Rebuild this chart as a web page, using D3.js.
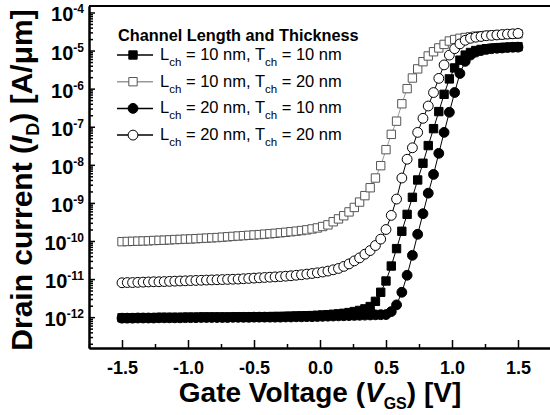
<!DOCTYPE html>
<meta charset="utf-8">
<style>
    body { margin: 0; background: #fff; }
    svg { font-family: Arial, "Liberation Sans", sans-serif; }
    .axis path, .axis line { stroke: #000; }
    .axis path { stroke-width: 2px; }
    .axis line { stroke-width: 1.5px; }
</style>
<svg width="550" height="415"></svg>
<script src="https://d3js.org/d3.v7.min.js"></script>
<script>

    // gate voltage sweep [V], 0.04 V step
    var vgs = [-1.50,-1.46,-1.42,-1.38,-1.34,-1.30,-1.26,-1.22,-1.18,-1.14,
        -1.10,-1.06,-1.02,-0.98,-0.94,-0.90,-0.86,-0.82,-0.78,-0.74,
        -0.70,-0.66,-0.62,-0.58,-0.54,-0.50,-0.46,-0.42,-0.38,-0.34,
        -0.30,-0.26,-0.22,-0.18,-0.14,-0.10,-0.06,-0.02,0.02,0.06,
        0.10,0.14,0.18,0.22,0.26,0.30,0.34,0.38,0.42,0.46,
        0.50,0.54,0.58,0.62,0.66,0.70,0.74,0.78,0.82,0.86,
        0.90,0.94,0.98,1.02,1.06,1.10,1.14,1.18,1.22,1.26,
        1.30,1.34,1.38,1.42,1.46,1.50];

    // drain current [A/um]
    var idL10T10 = [9.6e-13,9.6e-13,9.6e-13,9.7e-13,9.7e-13,9.7e-13,9.7e-13,9.8e-13,9.8e-13,9.8e-13,
        9.8e-13,9.8e-13,9.9e-13,9.9e-13,9.9e-13,1.0e-12,1.0e-12,1.0e-12,1.0e-12,1.0e-12,
        1.0e-12,1.0e-12,1.01e-12,1.01e-12,1.01e-12,1.02e-12,1.02e-12,1.03e-12,1.03e-12,1.04e-12,
        1.04e-12,1.05e-12,1.06e-12,1.07e-12,1.08e-12,1.09e-12,1.1e-12,1.12e-12,1.14e-12,1.16e-12,
        1.19e-12,1.22e-12,1.26e-12,1.32e-12,1.4e-12,1.5e-12,1.65e-12,1.9e-12,2.6e-12,4.5e-12,
        8.9e-12,2.2e-11,6.3e-11,1.8e-10,5.0e-10,1.4e-9,4.0e-9,1.1e-8,3.2e-8,8.9e-8,
        2.5e-7,7.1e-7,1.8e-6,3.5e-6,5.6e-6,7.6e-6,8.9e-6,1.0e-5,1.07e-5,1.12e-5,
        1.15e-5,1.17e-5,1.2e-5,1.22e-5,1.23e-5,1.26e-5];

    var idL10T20 = [9.6e-11,9.7e-11,9.8e-11,9.9e-11,1.0e-10,1.01e-10,1.03e-10,1.04e-10,1.05e-10,1.07e-10,
        1.09e-10,1.1e-10,1.12e-10,1.13e-10,1.15e-10,1.17e-10,1.19e-10,1.21e-10,1.23e-10,1.26e-10,
        1.29e-10,1.32e-10,1.35e-10,1.38e-10,1.41e-10,1.44e-10,1.47e-10,1.51e-10,1.55e-10,1.59e-10,
        1.64e-10,1.69e-10,1.75e-10,1.81e-10,1.88e-10,1.96e-10,2.07e-10,2.2e-10,2.4e-10,2.65e-10,
        3.2e-10,3.8e-10,4.6e-10,5.8e-10,7.6e-10,1.05e-9,1.55e-9,2.5e-9,4.5e-9,9.5e-9,
        2.5e-8,6.3e-8,1.4e-7,4.0e-7,1.0e-6,1.9e-6,3.3e-6,5.1e-6,7.2e-6,9.3e-6,
        1.17e-5,1.45e-5,1.78e-5,1.95e-5,2.1e-5,2.2e-5,2.3e-5,2.4e-5,2.45e-5,2.5e-5,
        2.55e-5,2.6e-5,2.63e-5,2.66e-5,2.7e-5,2.75e-5];

    var idL20T10 = [9.4e-13,9.4e-13,9.4e-13,9.5e-13,9.5e-13,9.5e-13,9.5e-13,9.6e-13,9.6e-13,9.6e-13,
        9.6e-13,9.6e-13,9.7e-13,9.7e-13,9.7e-13,9.8e-13,9.8e-13,9.8e-13,9.8e-13,9.8e-13,
        9.8e-13,9.9e-13,9.9e-13,9.9e-13,9.9e-13,1.0e-12,1.0e-12,1.0e-12,1.0e-12,1.0e-12,
        1.0e-12,1.01e-12,1.01e-12,1.02e-12,1.02e-12,1.03e-12,1.03e-12,1.04e-12,1.05e-12,1.06e-12,
        1.07e-12,1.08e-12,1.09e-12,1.1e-12,1.11e-12,1.12e-12,1.13e-12,1.14e-12,1.15e-12,1.16e-12,
        1.17e-12,1.4e-12,2.1e-12,4.5e-12,1.26e-11,4.2e-11,1.5e-10,5.2e-10,1.8e-9,5.6e-9,
        2.0e-8,7.1e-8,2.4e-7,7.9e-7,2.5e-6,5.2e-6,7.6e-6,9.1e-6,1.0e-5,1.07e-5,
        1.12e-5,1.15e-5,1.17e-5,1.2e-5,1.22e-5,1.23e-5];

    var idL20T20 = [8.0e-12,8.1e-12,8.1e-12,8.2e-12,8.3e-12,8.4e-12,8.5e-12,8.5e-12,8.6e-12,8.7e-12,
        8.8e-12,8.9e-12,9.0e-12,9.1e-12,9.2e-12,9.3e-12,9.4e-12,9.5e-12,9.6e-12,9.7e-12,
        9.8e-12,9.9e-12,1.0e-11,1.02e-11,1.04e-11,1.06e-11,1.08e-11,1.1e-11,1.12e-11,1.14e-11,
        1.16e-11,1.19e-11,1.22e-11,1.26e-11,1.3e-11,1.35e-11,1.4e-11,1.46e-11,1.53e-11,1.62e-11,
        1.75e-11,1.9e-11,2.15e-11,2.5e-11,3.0e-11,3.6e-11,4.5e-11,5.6e-11,7.6e-11,1.12e-10,
        2.0e-10,4.7e-10,1.26e-9,4.5e-9,1.4e-8,2.8e-8,7.1e-8,1.66e-7,3.5e-7,7.9e-7,
        1.86e-6,4.2e-6,7.6e-6,1.12e-5,1.5e-5,1.86e-5,2.1e-5,2.24e-5,2.34e-5,2.45e-5,
        2.5e-5,2.57e-5,2.63e-5,2.7e-5,2.75e-5,2.82e-5];

    var xTicks = [-1.5, -1.0, -0.5, 0.0, 0.5, 1.0, 1.5];
    var yTickExps = [-4, -5, -6, -7, -8, -9, -10, -11, -12];

    var series = [
        {lch: "10", tch: "10", values: idL10T10, shape: "square", fill: "#000", stroke: "#000", line: "#000"},
        {lch: "10", tch: "20", values: idL10T20, shape: "square", fill: "#fff", stroke: "#555", line: "#999"},
        {lch: "20", tch: "10", values: idL20T10, shape: "circle", fill: "#000", stroke: "#000", line: "#000"},
        {lch: "20", tch: "20", values: idL20T20, shape: "circle", fill: "#fff", stroke: "#000", line: "#000"}
    ];

    var svg = d3.select("svg");

    var plotL = 89, plotR = 551, plotT = 6, plotB = 348;

    var x = d3.scaleLinear().domain([-1.75, 1.75]).range([plotL, plotR]);
    var y = d3.scaleLog().domain([Math.pow(10, -12.81), Math.pow(10, -3.83)]).range([plotB, plotT]);

    // minor ticks
    var xMinor = [-1.75, -1.25, -0.75, -0.25, 0.25, 0.75, 1.25, 1.75];
    var yMinor = [];
    for (var e = -13; e <= -4; e++) {
        for (var m = 2; m <= 9; m++) {
            var v = m * Math.pow(10, e);
            if (v > y.domain()[0] && v < y.domain()[1]) yMinor.push(v);
        }
    }

    svg.append("g")
        .attr("class", "axis")
        .attr("transform", "translate(0," + plotB + ")")
        .call(d3.axisBottom(x).tickValues(xMinor).tickSize(-4).tickSizeOuter(0).tickFormat(""));

    var xAxis = svg.append("g")
        .attr("class", "axis")
        .attr("transform", "translate(0," + plotB + ")")
        .call(d3.axisBottom(x).tickValues(xTicks).tickSize(-8).tickSizeOuter(0).tickPadding(13)
            .tickFormat(d3.format(".1f")));
    xAxis.selectAll("text")
        .attr("font-size", 18)
        .attr("font-weight", "bold")
        .attr("font-family", "Arial, 'Liberation Sans', sans-serif")
        .text(function(d) { return d3.format(".1f")(d).replace("\u2212", "-"); });

    svg.append("g")
        .attr("class", "axis")
        .attr("transform", "translate(" + plotL + ",0)")
        .call(d3.axisLeft(y).tickValues(yMinor).tickSize(-4).tickSizeOuter(0).tickFormat(""));

    svg.append("g")
        .attr("class", "axis")
        .attr("transform", "translate(" + plotL + ",0)")
        .call(d3.axisLeft(y).tickValues(yTickExps.map(function(p) { return Math.pow(10, p); }))
            .tickSize(-6).tickSizeOuter(0).tickFormat(""));

    // top frame line
    svg.append("line")
        .attr("x1", plotL).attr("x2", plotR)
        .attr("y1", plotT).attr("y2", plotT)
        .attr("stroke", "#000").attr("stroke-width", 2);

    // y tick labels 10^n
    var yLab = svg.append("g").selectAll("text")
        .data(yTickExps)
        .enter().append("text")
        .attr("x", plotL - 5)
        .attr("y", function(d) { return y(Math.pow(10, d)) + 9; })
        .attr("text-anchor", "end")
        .attr("font-weight", "bold")
        .attr("font-size", 20);
    yLab.append("tspan").text("10");
    yLab.append("tspan").attr("dy", -8).attr("font-size", 12).text(function(d) { return "-" + (-d); });

    // curves
    var line = d3.line()
        .x(function(d, i) { return x(vgs[i]); })
        .y(function(d) { return y(d); });

    var symSquare = d3.symbol().type(d3.symbolSquare).size(70);
    var symCircle = d3.symbol().type(d3.symbolCircle).size(76);

    series.forEach(function(s) {
        var g = svg.append("g");
        g.append("path")
            .attr("d", line(s.values))
            .attr("fill", "none")
            .attr("stroke", s.line)
            .attr("stroke-width", 1);
        g.selectAll("path.mark")
            .data(s.values)
            .enter().append("path")
            .attr("class", "mark")
            .attr("transform", function(d, i) { return "translate(" + x(vgs[i]) + "," + y(d) + ")"; })
            .attr("d", s.shape == "square" ? symSquare : symCircle)
            .attr("fill", s.fill)
            .attr("stroke", s.stroke)
            .attr("stroke-width", 1);
    });

    // legend
    var legend = svg.append("g");
    legend.append("text")
        .attr("x", 118).attr("y", 40.5)
        .attr("font-size", 16.3).attr("font-weight", "bold")
        .text("Channel Length and Thickness");

    var rowY = function(i) { return 55 + i * 26.7; };
    series.forEach(function(s, i) {
        var ry = rowY(i);
        legend.append("line")
            .attr("x1", 117).attr("x2", 153)
            .attr("y1", ry).attr("y2", ry)
            .attr("stroke", s.line).attr("stroke-width", 1.5);
        legend.append("path")
            .attr("transform", "translate(133," + ry + ")")
            .attr("d", s.shape == "square" ? symSquare : symCircle)
            .attr("fill", s.fill).attr("stroke", s.stroke);
        var t = legend.append("text")
            .attr("x", 160).attr("y", ry + 5)
            .attr("font-size", 16.5);
        t.append("tspan").text("L");
        t.append("tspan").attr("dy", 6).attr("font-size", 11.5).text("ch");
        t.append("tspan").attr("dy", -6).text(" = " + s.lch + " nm, T");
        t.append("tspan").attr("dy", 6).attr("font-size", 11.5).text("ch");
        t.append("tspan").attr("dy", -6).text(" = " + s.tch + " nm");
    });

    // axis titles
    var xt = svg.append("text")
        .attr("x", 320).attr("y", 402)
        .attr("text-anchor", "middle")
        .attr("font-size", 28).attr("font-weight", "bold");
    xt.append("tspan").text("Gate Voltage (");
    xt.append("tspan").attr("font-style", "italic").text("V");
    xt.append("tspan").attr("dy", 7).attr("font-size", 16).text("GS");
    xt.append("tspan").attr("dy", -7).text(") [V]");

    var yt = svg.append("text")
        .attr("transform", "translate(32,180) rotate(-90)")
        .attr("text-anchor", "middle")
        .attr("font-size", 30).attr("font-weight", "bold");
    yt.append("tspan").text("Drain current (");
    yt.append("tspan").attr("font-style", "italic").text("I");
    yt.append("tspan").attr("dy", 7).attr("font-size", 18).text("D");
    yt.append("tspan").attr("dy", -7).text(") [A/\u03bcm]");

</script>
